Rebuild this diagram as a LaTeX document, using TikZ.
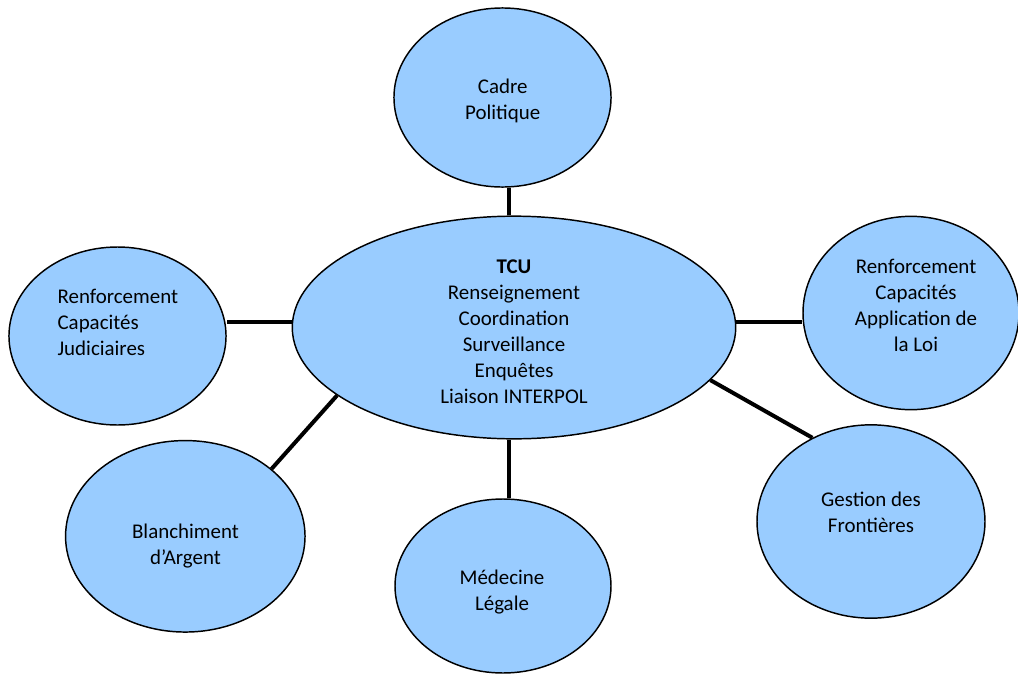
\documentclass[tikz,border=0pt]{standalone}
\usepackage{fontspec}
\setmainfont{Carlito}
\usetikzlibrary{shapes.geometric}

\definecolor{bleu}{HTML}{99CCFF}
\tikzset{
	bulle/.style={draw=black, line width=1.1pt, fill=bleu, ellipse, inner sep=0pt},
	texte/.style={inner sep=0pt, align=center, font=\fontsize{15.7}{19.5}\selectfont},
	lien/.style={line width=3pt}
}

\begin{document}
\begin{tikzpicture}[x=0.75pt,y=-0.75pt]
		\useasboundingbox (0,0) rectangle (1018,675);

		\node[bulle, minimum width=332.6pt, minimum height=167pt] (tcu) at (514,327.5) {};
		\node[bulle, minimum width=162.8pt, minimum height=134.3pt] (cadre) at (502.5,97.5) {};
		\node[bulle, minimum width=162.8pt, minimum height=133.5pt] (judic) at (117.5,336) {};
		\node[bulle, minimum width=162pt, minimum height=145pt] (loi) at (911,313) {};
		\node[bulle, minimum width=179.6pt, minimum height=143.6pt] (blanch) at (185.3,536.3) {};
		\node[bulle, minimum width=162pt, minimum height=130.5pt] (medec) at (503,586) {};
		\node[bulle, minimum width=171pt, minimum height=145pt] (front) at (871,521.5) {};

		\node[texte] (tcuTxt) at (514,332) {\textbf{TCU}\\Renseignement\\Coordination\\Surveillance\\Enquêtes\\Liaison INTERPOL};
		\node[texte] (cadreTxt) at (502.7,100.8) {Cadre\\Politique};
		\node[texte, align=left, anchor=west] (judicTxt) at (57.3,322.7) {Renforcement\\Capacités\\Judiciaires};
		\node[texte] (loiTxt) at (916,305.8) {Renforcement\\Capacités\\Application de\\la Loi};
		\node[texte] (blanchTxt) at (185.5,546.2) {Blanchiment\\d’Argent};
		\node[texte] (medecTxt) at (502,592.4) {Médecine\\Légale};
		\node[texte] (frontTxt) at (871,512.3) {Gestion des\\Frontières};

		\draw[lien] ([xshift=4.5pt]cadre.south) -- ([xshift=4.5pt]cadre.south |- tcu.north);
		\draw[lien] ([yshift=4.5pt]tcu.west) -- ([yshift=4.5pt]tcu.west -| judic.east);
		\draw[lien] ([yshift=4.5pt]tcu.east) -- ([yshift=4.5pt]tcu.east -| loi.west);
		\draw[lien] (tcu.201) -- (blanch.38);
		\draw[lien] ([xshift=4.5pt]medec.north) -- ([xshift=4.5pt]medec.north |- tcu.south);
		\draw[lien] (tcu.345) -- (front.125);
	\end{tikzpicture}
\end{document}
